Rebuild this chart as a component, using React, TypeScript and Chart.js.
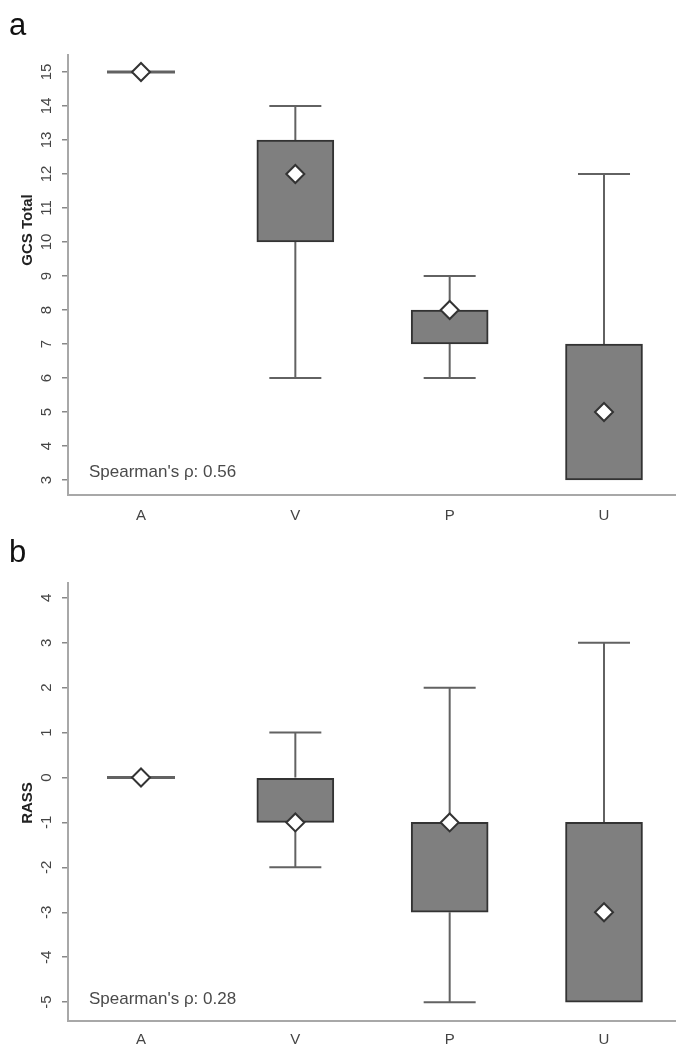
import React, { useEffect, useRef } from "react";
import { Chart, registerables } from "chart.js";

Chart.register(...registerables);

const categories = ["A", "V", "P", "U"];

// Panel a: GCS Total
const gcsMin = [15, 6, 6, 3];
const gcsQ1 = [15, 10, 7, 3];
const gcsMedian = [15, 12, 8, 5];
const gcsQ3 = [15, 13, 8, 7];
const gcsMax = [15, 14, 9, 12];
const gcsTicks = [3, 4, 5, 6, 7, 8, 9, 10, 11, 12, 13, 14, 15];

// Panel b: RASS
const rassMin = [0, -2, -5, -5];
const rassQ1 = [0, -1, -3, -5];
const rassMedian = [0, -1, -1, -3];
const rassQ3 = [0, 0, -1, -1];
const rassMax = [0, 1, 2, 3];
const rassTicks = [-5, -4, -3, -2, -1, 0, 1, 2, 3, 4];

const FONT = "Arial, 'Liberation Sans', Helvetica, sans-serif";

type PanelProps = {
  width: number;
  height: number;
  letter: string;
  letterY: number;
  yTitle: string;
  yTitleY: number;
  note: string;
  mins: number[];
  q1: number[];
  med: number[];
  q3: number[];
  maxs: number[];
  ticks: number[];
  yMin: number;
  yMax: number;
  padTop: number;
  xAxisHeight: number;
  xLabelPad: number;
  noteOffset: number;
};

function Panel(p: PanelProps) {
  const ref = useRef<HTMLCanvasElement | null>(null);
  useEffect(() => {
    if (!ref.current) return;
    const boxData = categories.map((_, i) => ({
      x: i + 1,
      y: p.q1[i] === p.q3[i] ? null : [p.q1[i], p.q3[i]],
    }));
    const medData = categories.map((_, i) => ({ x: i + 1, y: p.med[i] }));

    const boxPlugin = {
      id: "boxextras",
      beforeDatasetsDraw(chart: any) {
        const ctx = chart.ctx;
        const xs = chart.scales.x;
        const ys = chart.scales.y;
        ctx.save();
        ctx.strokeStyle = "#626262";
        ctx.lineWidth = 2;
        categories.forEach((_, i) => {
          const cx = xs.getPixelForValue(i + 1);
          const capHalf = 26;
          if (p.q1[i] === p.q3[i] && p.mins[i] === p.maxs[i]) {
            const yy = ys.getPixelForValue(p.q1[i]);
            ctx.lineWidth = 3;
            ctx.beginPath();
            ctx.moveTo(cx - 34, yy);
            ctx.lineTo(cx + 34, yy);
            ctx.stroke();
            ctx.lineWidth = 2;
            return;
          }
          const segs: [number, number][] = [
            [p.q3[i], p.maxs[i]],
            [p.q1[i], p.mins[i]],
          ];
          segs.forEach(([a, b]) => {
            if (a === b) return;
            const ya = ys.getPixelForValue(a);
            const yb = ys.getPixelForValue(b);
            ctx.beginPath();
            ctx.moveTo(cx, ya);
            ctx.lineTo(cx, yb);
            ctx.stroke();
            ctx.beginPath();
            ctx.moveTo(cx - capHalf, yb);
            ctx.lineTo(cx + capHalf, yb);
            ctx.stroke();
          });
        });
        ctx.restore();
      },
      afterDraw(chart: any) {
        const ctx = chart.ctx;
        const ys = chart.scales.y;
        const area = chart.chartArea;
        ctx.save();
        // rotated y tick labels
        ctx.fillStyle = "#444";
        ctx.font = `15px ${FONT}`;
        ctx.textAlign = "center";
        ctx.textBaseline = "middle";
        p.ticks.forEach((t) => {
          const yy = ys.getPixelForValue(t);
          ctx.save();
          ctx.translate(area.left - 21, yy);
          ctx.rotate(-Math.PI / 2);
          ctx.fillText(String(t), 0, 0);
          ctx.restore();
        });
        // y title
        ctx.save();
        ctx.font = `bold 15px ${FONT}`;
        ctx.fillStyle = "#222";
        ctx.translate(28, p.yTitleY);
        ctx.rotate(-Math.PI / 2);
        ctx.fillText(p.yTitle, 0, 0);
        ctx.restore();
        // note
        ctx.font = `17px ${FONT}`;
        ctx.fillStyle = "#4a4a4a";
        ctx.textAlign = "left";
        ctx.fillText(p.note, area.left + 21, area.bottom - p.noteOffset);
        // panel letter
        ctx.font = `31px ${FONT}`;
        ctx.fillStyle = "#111";
        ctx.textBaseline = "alphabetic";
        ctx.fillText(p.letter, 9, p.letterY);
        ctx.restore();
      },
    };

    const chart = new Chart(ref.current, {
      type: "bar",
      data: {
        datasets: [
          {
            type: "scatter",
            data: medData,
            pointStyle: "rectRot",
            pointRadius: 9,
            pointBackgroundColor: "#ffffff",
            pointBorderColor: "#333333",
            pointBorderWidth: 2,
            order: 0,
          } as any,
          {
            type: "bar",
            data: boxData as any,
            backgroundColor: "#7f7f7f",
            borderColor: "#333333",
            borderWidth: 2,
            borderSkipped: false,
            barThickness: 77,
            order: 1,
          } as any,
        ],
      },
      options: {
        responsive: false,
        animation: false,
        layout: { padding: { top: p.padTop, right: 12, left: 0, bottom: 0 } },
        plugins: { legend: { display: false }, tooltip: { enabled: false } },
        scales: {
          x: {
            type: "linear",
            offset: false,
            min: 0.527,
            max: 4.46,
            afterBuildTicks: (s: any) => {
              s.ticks = [1, 2, 3, 4].map((v) => ({ value: v }));
            },
            afterFit: (s: any) => {
              s.height = p.xAxisHeight;
            },
            grid: { display: false, drawTicks: false, offset: false },
            border: { display: true, color: "#a8a8a8", width: 2 },
            ticks: {
              padding: p.xLabelPad,
              color: "#444",
              font: { family: FONT, size: 15 },
              maxRotation: 0,
              autoSkip: false,
              callback: (v: any) => categories[Number(v) - 1] ?? "",
            },
          },
          y: {
            type: "linear",
            min: p.yMin,
            max: p.yMax,
            afterBuildTicks: (s: any) => {
              s.ticks = p.ticks.map((v) => ({ value: v }));
            },
            afterFit: (s: any) => {
              s.width = 68;
            },
            grid: {
              display: true,
              drawOnChartArea: false,
              drawTicks: true,
              tickLength: 6,
              color: "#888",
              lineWidth: 1.5,
            },
            border: { display: true, color: "#a8a8a8", width: 2 },
            ticks: { display: false },
          },
        },
      },
      plugins: [boxPlugin],
    } as any);
    return () => chart.destroy();
  }, []);
  return (
    <canvas
      ref={ref}
      width={p.width}
      height={p.height}
      style={{ display: "block", width: p.width, height: p.height }}
    />
  );
}

export default function App() {
  return (
    <div
      style={{
        position: "absolute",
        left: 0,
        top: 0,
        width: 687,
        height: 1050,
        background: "#fff",
      }}
    >
      <Panel
        width={687}
        height={535}
        letter="a"
        letterY={35}
        yTitle="GCS Total"
        yTitleY={230}
        note="Spearman's ρ: 0.56"
        mins={gcsMin}
        q1={gcsQ1}
        med={gcsMedian}
        q3={gcsQ3}
        maxs={gcsMax}
        ticks={gcsTicks}
        yMin={2.56}
        yMax={15.5}
        padTop={55}
        xAxisHeight={40}
        xLabelPad={12}
        noteOffset={23}
      />
      <Panel
        width={687}
        height={515}
        letter="b"
        letterY={27}
        yTitle="RASS"
        yTitleY={268}
        note="Spearman's ρ: 0.28"
        mins={rassMin}
        q1={rassQ1}
        med={rassMedian}
        q3={rassQ3}
        maxs={rassMax}
        ticks={rassTicks}
        yMin={-5.42}
        yMax={4.33}
        padTop={48}
        xAxisHeight={29}
        xLabelPad={10}
        noteOffset={22}
      />
    </div>
  );
}
